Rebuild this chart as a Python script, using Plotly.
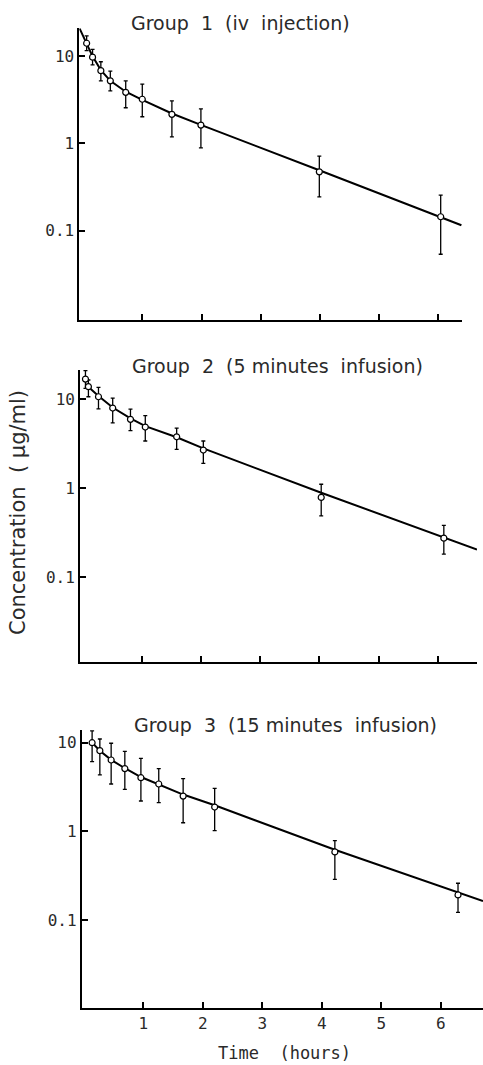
import plotly.graph_objects as go

# ---------------- data ----------------
# Group 1 (iv injection)
g1_t = [0.06, 0.16, 0.30, 0.46, 0.72, 1.00, 1.50, 1.99, 3.99, 6.04]
g1_c = [14.0, 9.7, 6.8, 5.2, 3.84, 3.2, 2.15, 1.62, 0.473, 0.145]
g1_hi = [17.0, 11.9, 8.6, 6.7, 5.2, 4.78, 3.07, 2.49, 0.716, 0.256]
g1_lo = [11.5, 7.9, 5.2, 4.0, 2.56, 2.02, 1.19, 0.89, 0.244, 0.054]
g1_fit_t = [-0.06, 0.06, 0.16, 0.30, 0.46, 0.72, 1.00, 1.50, 2.00, 4.00, 6.39]
g1_fit_c = [20.7, 14.0, 9.9, 6.9, 5.2, 3.9, 3.15, 2.2, 1.62, 0.49, 0.116]

# Group 2 (5 minutes infusion)
g2_t = [0.05, 0.10, 0.27, 0.51, 0.81, 1.06, 1.59, 2.04, 4.03, 6.10]
g2_c = [16.9, 13.9, 10.7, 7.98, 5.96, 4.88, 3.79, 2.69, 0.79, 0.275]
g2_hi = [21.0, 16.5, 13.6, 10.3, 7.78, 6.55, 4.75, 3.40, 1.11, 0.383]
g2_lo = [13.3, 10.7, 7.8, 5.45, 4.44, 3.40, 2.74, 1.91, 0.49, 0.182]
g2_fit_t = [0.05, 0.27, 0.51, 0.81, 1.06, 1.59, 2.04, 4.03, 6.66]
g2_fit_c = [14.8, 10.9, 8.1, 6.1, 5.0, 3.75, 2.81, 0.89, 0.205]

# Group 3 (15 minutes infusion)
g3_t = [0.14, 0.27, 0.46, 0.69, 0.96, 1.26, 1.67, 2.20, 4.22, 6.29]
g3_c = [10.0, 8.13, 6.38, 5.1, 4.03, 3.42, 2.5, 1.88, 0.586, 0.192]
g3_hi = [13.6, 11.0, 9.85, 8.0, 6.67, 5.09, 3.93, 3.06, 0.785, 0.26]
g3_lo = [6.1, 4.33, 3.42, 2.98, 2.2, 2.11, 1.25, 1.02, 0.288, 0.122]
g3_fit_t = [0.14, 0.27, 0.46, 0.69, 0.96, 1.26, 1.67, 2.20, 4.22, 6.71]
g3_fit_c = [10.0, 8.1, 6.4, 5.15, 4.1, 3.4, 2.6, 1.97, 0.62, 0.164]

titles = ["Group  1  (iv  injection)",
          "Group  2  (5 minutes  infusion)",
          "Group  3  (15 minutes  infusion)"]
x_ticks = [1, 2, 3, 4, 5, 6]
x_ticktext = ["1", "2", "3", "4", "5", "6"]
y_ticks = [0.1, 1, 10]
y_ticktext = ["0.1", "1", "10"]

groups = [
    (g1_t, g1_c, g1_hi, g1_lo, g1_fit_t, g1_fit_c),
    (g2_t, g2_c, g2_hi, g2_lo, g2_fit_t, g2_fit_c),
    (g3_t, g3_c, g3_hi, g3_lo, g3_fit_t, g3_fit_c),
]

# ---------------- layout geometry (pixels) ----------------
W, H = 483, 1065
# (x_left, x_right, y_top, y_bottom) in px, x range, y log range
panels = [
    (79.3, 462.0, 28.3, 320.0, [-0.064, 6.40], [-2.02, 1.317]),
    (80.0, 477.0, 370.0, 661.7, [-0.042, 6.66], [-1.95, 1.33]),
    (81.7, 483.0, 730.0, 1008.3, [-0.035, 6.71], [-1.995, 1.143]),
]
title_pos = [(240, 23), (277, 366), (285, 725)]

MONO = "DejaVu Sans Mono"
SANS = "DejaVu Sans"
TXT = "#2a2a2a"

fig = go.Figure()
layout = dict(
    width=W, height=H,
    margin=dict(l=0, r=0, t=0, b=0),
    paper_bgcolor="white", plot_bgcolor="white",
    showlegend=False,
)
annotations = []

for i, ((t, c, hi, lo, ft, fc), (xl, xr, yt, yb, xr_rng, yr_rng)) in enumerate(zip(groups, panels)):
    n = i + 1
    xa = "x" if n == 1 else f"x{n}"
    ya = "y" if n == 1 else f"y{n}"
    fig.add_trace(go.Scatter(
        x=ft, y=fc, mode="lines", xaxis=xa, yaxis=ya,
        line=dict(color="black", width=2), hoverinfo="skip"))
    fig.add_trace(go.Scatter(
        x=t, y=c, mode="markers", xaxis=xa, yaxis=ya,
        marker=dict(symbol="circle", size=6, color="white",
                    line=dict(color="black", width=1.2)),
        error_y=dict(type="data", symmetric=False,
                     array=[h - v for h, v in zip(hi, c)],
                     arrayminus=[v - l for v, l in zip(c, lo)],
                     color="black", thickness=1.3, width=2)))
    xkey = "xaxis" if n == 1 else f"xaxis{n}"
    ykey = "yaxis" if n == 1 else f"yaxis{n}"
    layout[xkey] = dict(
        domain=[xl / W, xr / W], anchor=ya, range=xr_rng,
        showline=True, linecolor="black", linewidth=1.8,
        showgrid=False, zeroline=False,
        ticks="inside", ticklen=6, tickwidth=1.6, tickcolor="black",
        tickvals=x_ticks, ticktext=x_ticktext,
        showticklabels=(n == 3),
        tickfont=dict(family=MONO, size=16, color=TXT),
    )
    layout[ykey] = dict(
        domain=[1 - yb / H, 1 - yt / H], anchor=xa, type="log", range=yr_rng,
        showline=True, linecolor="black", linewidth=1.8,
        showgrid=False, zeroline=False,
        ticks="inside", ticklen=6, tickwidth=1.6, tickcolor="black",
        tickvals=y_ticks, ticktext=y_ticktext,
        tickfont=dict(family=MONO, size=16, color=TXT),
    )
    tx, ty = title_pos[i]
    annotations.append(dict(
        text=titles[i], x=tx / W, y=1 - ty / H, xref="paper", yref="paper",
        xanchor="center", yanchor="middle", showarrow=False,
        font=dict(family=SANS, size=19, color=TXT)))

annotations.append(dict(
    text="Concentration  ( µg/ml)", x=18 / W, y=1 - 513 / H,
    xref="paper", yref="paper", textangle=-90,
    xanchor="center", yanchor="middle", showarrow=False,
    font=dict(family=SANS, size=21, color=TXT)))
annotations.append(dict(
    text="Time  (hours)", x=284 / W, y=1 - 1053 / H,
    xref="paper", yref="paper", xanchor="center", yanchor="middle",
    showarrow=False, font=dict(family=MONO, size=17, color=TXT)))

layout["annotations"] = annotations
fig.update_layout(**layout)
fig.write_html("out.html",
               config={"displayModeBar": False},
               post_script="document.body.style.margin='0';")
